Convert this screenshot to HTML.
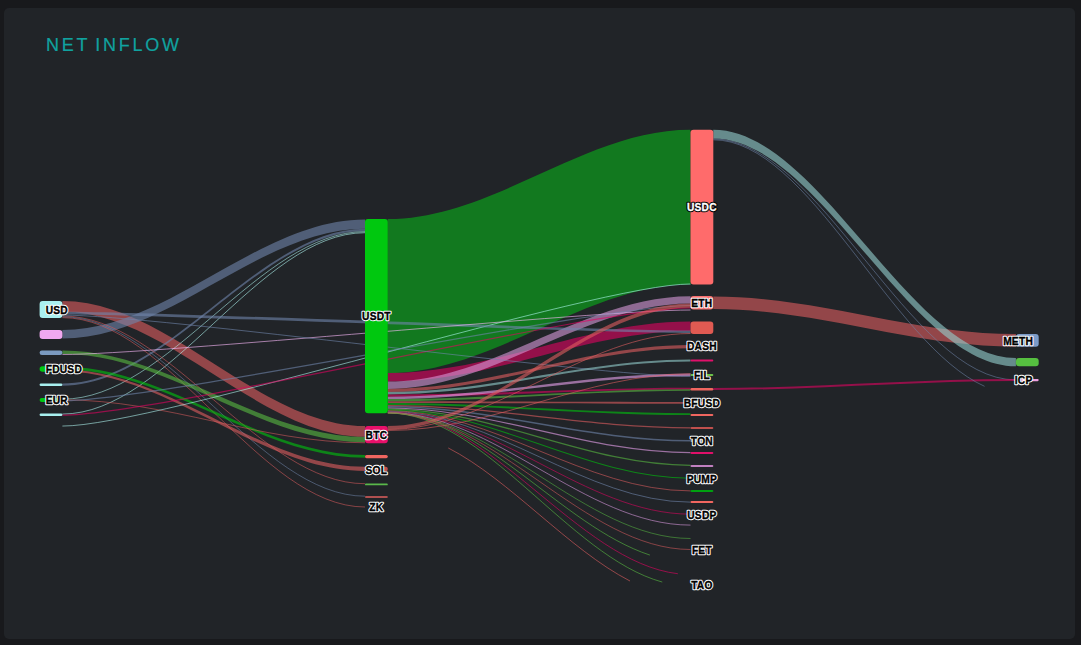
<!DOCTYPE html>
<html><head><meta charset="utf-8"><style>
html,body{margin:0;padding:0;background:#18191c;width:1081px;height:645px;overflow:hidden}
.panel{position:absolute;left:4px;top:8px;width:1071px;height:631px;background:#212428;border-radius:5px}
.title{position:absolute;left:46px;top:35px;font-family:"Liberation Sans",sans-serif;font-size:18px;letter-spacing:2.75px;word-spacing:-2.5px;color:#10a29f;white-space:nowrap;-webkit-text-stroke:0.2px #10a29f}
svg{position:absolute;left:0;top:0}
svg text{font-family:"Liberation Sans",sans-serif;font-weight:bold;font-size:10.2px;letter-spacing:0.25px}
svg text.h{fill:#fff;stroke:#fff;stroke-width:2.4px;stroke-linejoin:round}
svg text.k{fill:#000;stroke:#000;stroke-width:0.35px}
svg text.hi{fill:#000;stroke:#000;stroke-width:2.4px;stroke-linejoin:round}
svg text.ki{fill:#fff;stroke:#fff;stroke-width:0.3px}
</style></head><body>
<div class="panel"></div>
<div class="title">NET INFLOW</div>
<svg width="1081" height="645" viewBox="0 0 1081 645">
<path d="M62.4 301C168.31 301 259.09 426 365 426L365 436.8C259.09 436.8 168.31 311.7 62.4 311.7Z" fill="#df5d5f" fill-opacity="0.6"/>
<path d="M62.4 330C168.31 330 259.09 219.4 365 219.4L365 228.7C259.09 228.7 168.31 338.6 62.4 338.6Z" fill="#6f86ac" fill-opacity="0.6"/>
<path d="M62.4 383.6C168.31 383.6 259.09 228.7 365 228.7L365 231C259.09 231 168.31 385.8 62.4 385.8Z" fill="#6f86ac" fill-opacity="0.6"/>
<path d="M62.4 399.2C168.31 399.2 259.09 231.6 365 231.6" stroke="#b5fffa" stroke-opacity="0.6" stroke-width="0.9" fill="none"/>
<path d="M62.4 414.05C168.31 414.05 259.09 232.7 365 232.7" stroke="#b5fffa" stroke-opacity="0.6" stroke-width="0.95" fill="none"/>
<path d="M62.4 316C168.31 316 259.09 483.7 365 483.7" stroke="#df5d5f" stroke-opacity="0.6" stroke-width="0.9" fill="none"/>
<path d="M62.4 316.8C168.31 316.8 259.09 496.2 365 496.2" stroke="#6f86ac" stroke-opacity="0.6" stroke-width="0.9" fill="none"/>
<path d="M62.4 317.6C168.31 317.6 259.09 507 365 507" stroke="#df5d5f" stroke-opacity="0.6" stroke-width="0.9" fill="none"/>
<path d="M62.4 350.6C168.31 350.6 259.09 437 365 437L365 442.3C259.09 442.3 168.31 354 62.4 354Z" fill="#58ba41" fill-opacity="0.6"/>
<path d="M62.4 366.8C168.31 366.8 259.09 455 365 455L365 457.8C259.09 457.8 168.31 369.5 62.4 369.5Z" fill="#00c40d" fill-opacity="0.6"/>
<path d="M62.4 369.5C168.31 369.5 259.09 466.8 365 466.8L365 471C259.09 471 168.31 371.5 62.4 371.5Z" fill="#df5d5f" fill-opacity="0.6"/>
<path d="M62.4 399.8C168.31 399.8 259.09 442.75 365 442.75" stroke="#df5d5f" stroke-opacity="0.6" stroke-width="0.9" fill="none"/>
<path d="M387.8 219C493.75 219 584.56 129.8 690.5 129.8L690.5 284.5C584.56 284.5 493.75 373.1 387.8 373.1Z" fill="#08b319" fill-opacity="0.6"/>
<path d="M387.8 373.1C493.75 373.1 584.56 321.5 690.5 321.5L690.5 331C584.56 331 493.75 381.6 387.8 381.6Z" fill="#e10361" fill-opacity="0.6"/>
<path d="M387.8 381.6C493.75 381.6 584.56 296.3 690.5 296.3L690.5 303.6C584.56 303.6 493.75 388.9 387.8 388.9Z" fill="#d799d9" fill-opacity="0.6"/>
<path d="M62.4 426.05C156.62 426.05 596.28 284 690.5 284" stroke="#b5fffa" stroke-opacity="0.6" stroke-width="0.95" fill="none"/>
<path d="M62.4 311.7C156.62 311.7 596.28 330.5 690.5 330.5L690.5 333.2C596.28 333.2 156.62 314.4 62.4 314.4Z" fill="#6f86ac" fill-opacity="0.6"/>
<path d="M62.4 354.5C156.62 354.5 596.28 310 690.5 310" stroke="#ffbcff" stroke-opacity="0.6" stroke-width="1" fill="none"/>
<path d="M62.4 400.75C156.62 400.75 596.28 305.5 690.5 305.5" stroke="#6f86ac" stroke-opacity="0.6" stroke-width="1.15" fill="none"/>
<path d="M62.4 415.15C156.62 415.15 596.28 308 690.5 308" stroke="#e10361" stroke-opacity="0.6" stroke-width="1.25" fill="none"/>
<path d="M62.4 315.1C156.62 315.1 596.28 376.5 690.5 376.5" stroke="#6f86ac" stroke-opacity="0.6" stroke-width="1" fill="none"/>
<path d="M387.8 388.9C493.75 388.9 584.56 344.9 690.5 344.9L690.5 348.2C584.56 348.2 493.75 391.9 387.8 391.9Z" fill="#df5d5f" fill-opacity="0.6"/>
<path d="M387.8 391.9C493.75 391.9 584.56 359.4 690.5 359.4L690.5 361.6C584.56 361.6 493.75 394.4 387.8 394.4Z" fill="#94d1cf" fill-opacity="0.6"/>
<path d="M387.8 394.4C493.75 394.4 584.56 387.7 690.5 387.7L690.5 389.5C584.56 389.5 493.75 396.7 387.8 396.7Z" fill="#e10361" fill-opacity="0.6"/>
<path d="M387.8 396.7C493.75 396.7 584.56 373.5 690.5 373.5L690.5 376C584.56 376 493.75 399.1 387.8 399.1Z" fill="#eba3f0" fill-opacity="0.6"/>
<path d="M387.8 399.1C493.75 399.1 584.56 389.2 690.5 389.2L690.5 390.8C584.56 390.8 493.75 401.3 387.8 401.3Z" fill="#58ba41" fill-opacity="0.6"/>
<path d="M387.8 401.3C493.75 401.3 584.56 402 690.5 402L690.5 403.8C584.56 403.8 493.75 403 387.8 403Z" fill="#df5d5f" fill-opacity="0.6"/>
<path d="M387.8 403C493.75 403 584.56 413.2 690.5 413.2L690.5 415C584.56 415 493.75 405 387.8 405Z" fill="#00c40d" fill-opacity="0.6"/>
<path d="M387.8 405.5C493.75 405.5 584.56 427.75 690.5 427.75" stroke="#df5d5f" stroke-opacity="0.6" stroke-width="1.25" fill="none"/>
<path d="M387.8 406.75C493.75 406.75 584.56 440.75 690.5 440.75" stroke="#6f86ac" stroke-opacity="0.6" stroke-width="1.5" fill="none"/>
<path d="M387.8 408C493.75 408 584.56 452.65 690.5 452.65" stroke="#eba3f0" stroke-opacity="0.6" stroke-width="1.15" fill="none"/>
<path d="M387.8 409C493.75 409 584.56 465.25 690.5 465.25" stroke="#58ba41" stroke-opacity="0.6" stroke-width="1.25" fill="none"/>
<path d="M387.8 409.9C493.75 409.9 584.56 478.15 690.5 478.15" stroke="#00c40d" stroke-opacity="0.6" stroke-width="1.05" fill="none"/>
<path d="M387.8 410.65C493.75 410.65 584.56 490.9 690.5 490.9" stroke="#df5d5f" stroke-opacity="0.6" stroke-width="0.95" fill="none"/>
<path d="M387.8 411.35C493.75 411.35 584.56 502.15 690.5 502.15" stroke="#6f86ac" stroke-opacity="0.6" stroke-width="1" fill="none"/>
<path d="M387.8 412C493.75 412 584.56 514.15 690.5 514.15" stroke="#e10361" stroke-opacity="0.6" stroke-width="0.95" fill="none"/>
<path d="M387.8 412.6C493.75 412.6 584.56 525.1 690.5 525.1" stroke="#eba3f0" stroke-opacity="0.6" stroke-width="0.9" fill="none"/>
<path d="M387.8 412.85C493.75 412.85 584.56 538.5 690.5 538.5" stroke="#58ba41" stroke-opacity="0.6" stroke-width="0.9" fill="none"/>
<path d="M387.8 412.95C493.75 412.95 584.56 549.5 690.5 549.5" stroke="#df5d5f" stroke-opacity="0.6" stroke-width="0.9" fill="none"/>
<path d="M387.8 426C493.75 426 584.56 303.6 690.5 303.6L690.5 307.4C584.56 307.4 493.75 429.6 387.8 429.6Z" fill="#df5d5f" fill-opacity="0.6"/>
<path d="M387.8 429.5C493.75 429.5 584.56 333.5 690.5 333.5" stroke="#df5d5f" stroke-opacity="0.6" stroke-width="1" fill="none"/>
<path d="M387.8 430.5C493.75 430.5 584.56 373.8 690.5 373.8" stroke="#df5d5f" stroke-opacity="0.6" stroke-width="1" fill="none"/>
<path d="M713.3 296.5C819.21 296.5 909.99 334.1 1015.9 334.1L1015.9 346.7C909.99 346.7 819.21 309.1 713.3 309.1Z" fill="#df5d5f" fill-opacity="0.6"/>
<path d="M713.3 129.8C819.21 129.8 909.99 358 1015.9 358L1015.9 366.3C909.99 366.3 819.21 138.4 713.3 138.4Z" fill="#94d1cf" fill-opacity="0.6"/>
<path d="M713.3 138.9C819.21 138.9 909.99 379.9 1015.9 379.9" stroke="#6f86ac" stroke-opacity="0.6" stroke-width="0.9" fill="none"/>
<path d="M713.3 388C819.21 388 909.99 379 1015.9 379L1015.9 381C909.99 381 819.21 390 713.3 390Z" fill="#e10361" fill-opacity="0.6"/>
<path d="M387.8 412.8C479.97 412.8 560.69 525.73 649.88 555.09" stroke="#58ba41" stroke-opacity="0.6" stroke-width="1" fill="none"/>
<path d="M387.8 412.8C489.51 412.8 577.27 561.82 677.86 573.74" stroke="#e10361" stroke-opacity="0.6" stroke-width="1" fill="none"/>
<path d="M387.8 413C484.21 413 568.09 556.26 662.24 582.05" stroke="#58ba41" stroke-opacity="0.6" stroke-width="1" fill="none"/>
<path d="M448.28 447.97C510 479.77 568.3 549.23 630.02 581.03" stroke="#df5d5f" stroke-opacity="0.6" stroke-width="1" fill="none"/>
<path d="M713.3 139.8C808.62 139.8 891.68 345.22 984.55 386.3" stroke="#6f86ac" stroke-opacity="0.6" stroke-width="0.9" fill="none"/>
<rect x="39.6" y="301" width="22.8" height="17" rx="3" fill="#aaf0f0"/>
<rect x="39.6" y="330" width="22.8" height="9" rx="3" fill="#f0a8f0"/>
<rect x="39.6" y="350.5" width="22.8" height="4.5" rx="2.25" fill="#7b9ac0"/>
<rect x="39.6" y="366.3" width="22.8" height="5.5" rx="2.75" fill="#00c80f"/>
<rect x="39.6" y="383.5" width="22.8" height="2.5" rx="1.25" fill="#a8f0f0"/>
<rect x="39.6" y="398" width="22.8" height="4" rx="2" fill="#00c80f"/>
<rect x="39.6" y="413.5" width="22.8" height="2.5" rx="1.25" fill="#a8f0f0"/>
<rect x="365" y="219" width="22.8" height="194.3" rx="3" fill="#00c80f"/>
<rect x="365" y="426" width="22.8" height="17.2" rx="3" fill="#e8106a"/>
<rect x="365" y="455" width="22.8" height="3.2" rx="1.6" fill="#f06660"/>
<rect x="365" y="466.8" width="22.8" height="4.4" rx="2.2" fill="#c0504d"/>
<rect x="365" y="483.5" width="22.8" height="1.8" rx="0.9" fill="#5ab84a"/>
<rect x="365" y="496" width="22.8" height="2" rx="1" fill="#b05050"/>
<rect x="690.5" y="129.8" width="22.8" height="154.7" rx="3" fill="#ff6b6b"/>
<rect x="690.5" y="296" width="22.8" height="13.5" rx="3" fill="#f87070"/>
<rect x="690.5" y="321.5" width="22.8" height="12.5" rx="3" fill="#e05a52"/>
<rect x="690.5" y="345" width="22.8" height="3" rx="1.5" fill="#c0504d"/>
<rect x="690.5" y="359.4" width="22.8" height="2" rx="1" fill="#e0106a"/>
<rect x="690.5" y="374" width="22.8" height="2" rx="1" fill="#6abf4b"/>
<rect x="690.5" y="388" width="22.8" height="2.4" rx="1.2" fill="#f06660"/>
<rect x="690.5" y="402" width="22.8" height="2" rx="1" fill="#c0504d"/>
<rect x="690.5" y="414" width="22.8" height="2" rx="1" fill="#f06660"/>
<rect x="690.5" y="427" width="22.8" height="2" rx="1" fill="#c0504d"/>
<rect x="690.5" y="440" width="22.8" height="2" rx="1" fill="#7b9ac0"/>
<rect x="690.5" y="452" width="22.8" height="2" rx="1" fill="#e0106a"/>
<rect x="690.5" y="465" width="22.8" height="2" rx="1" fill="#c080c0"/>
<rect x="690.5" y="478" width="22.8" height="2" rx="1" fill="#00a010"/>
<rect x="690.5" y="490" width="22.8" height="2" rx="1" fill="#00a010"/>
<rect x="690.5" y="501" width="22.8" height="2" rx="1" fill="#f06660"/>
<rect x="1015.9" y="334.1" width="22.8" height="12.6" rx="3" fill="#7b9bc8"/>
<rect x="1015.9" y="358" width="22.8" height="8.3" rx="3" fill="#56c040"/>
<rect x="1015.9" y="379" width="22.8" height="2.2" rx="1.1" fill="#f0a0e0"/>
<text class="h" x="45.7" y="310.2" text-anchor="start" dominant-baseline="central">USD</text>
<text class="k" x="45.7" y="310.2" text-anchor="start" dominant-baseline="central">USD</text>
<text class="h" x="45.7" y="369.5" text-anchor="start" dominant-baseline="central">FDUSD</text>
<text class="k" x="45.7" y="369.5" text-anchor="start" dominant-baseline="central">FDUSD</text>
<text class="h" x="45.7" y="400.5" text-anchor="start" dominant-baseline="central">EUR</text>
<text class="k" x="45.7" y="400.5" text-anchor="start" dominant-baseline="central">EUR</text>
<text class="h" x="376.4" y="316" text-anchor="middle" dominant-baseline="central">USDT</text>
<text class="k" x="376.4" y="316" text-anchor="middle" dominant-baseline="central">USDT</text>
<text class="h" x="376.4" y="435" text-anchor="middle" dominant-baseline="central">BTC</text>
<text class="k" x="376.4" y="435" text-anchor="middle" dominant-baseline="central">BTC</text>
<text class="h" x="376.4" y="470" text-anchor="middle" dominant-baseline="central">SOL</text>
<text class="k" x="376.4" y="470" text-anchor="middle" dominant-baseline="central">SOL</text>
<text class="h" x="376.4" y="507" text-anchor="middle" dominant-baseline="central">ZK</text>
<text class="k" x="376.4" y="507" text-anchor="middle" dominant-baseline="central">ZK</text>
<text class="hi" x="701.9" y="207" text-anchor="middle" dominant-baseline="central">USDC</text>
<text class="ki" x="701.9" y="207" text-anchor="middle" dominant-baseline="central">USDC</text>
<text class="h" x="701.9" y="303" text-anchor="middle" dominant-baseline="central">ETH</text>
<text class="k" x="701.9" y="303" text-anchor="middle" dominant-baseline="central">ETH</text>
<text class="h" x="701.9" y="346" text-anchor="middle" dominant-baseline="central">DASH</text>
<text class="k" x="701.9" y="346" text-anchor="middle" dominant-baseline="central">DASH</text>
<text class="h" x="701.9" y="375" text-anchor="middle" dominant-baseline="central">FIL</text>
<text class="k" x="701.9" y="375" text-anchor="middle" dominant-baseline="central">FIL</text>
<text class="h" x="701.9" y="403" text-anchor="middle" dominant-baseline="central">BFUSD</text>
<text class="k" x="701.9" y="403" text-anchor="middle" dominant-baseline="central">BFUSD</text>
<text class="h" x="701.9" y="441" text-anchor="middle" dominant-baseline="central">TON</text>
<text class="k" x="701.9" y="441" text-anchor="middle" dominant-baseline="central">TON</text>
<text class="h" x="701.9" y="479" text-anchor="middle" dominant-baseline="central">PUMP</text>
<text class="k" x="701.9" y="479" text-anchor="middle" dominant-baseline="central">PUMP</text>
<text class="h" x="701.9" y="515" text-anchor="middle" dominant-baseline="central">USDP</text>
<text class="k" x="701.9" y="515" text-anchor="middle" dominant-baseline="central">USDP</text>
<text class="h" x="701.9" y="550" text-anchor="middle" dominant-baseline="central">FET</text>
<text class="k" x="701.9" y="550" text-anchor="middle" dominant-baseline="central">FET</text>
<text class="h" x="701.9" y="585" text-anchor="middle" dominant-baseline="central">TAO</text>
<text class="k" x="701.9" y="585" text-anchor="middle" dominant-baseline="central">TAO</text>
<text class="h" x="1033" y="341" text-anchor="end" dominant-baseline="central">METH</text>
<text class="k" x="1033" y="341" text-anchor="end" dominant-baseline="central">METH</text>
<text class="h" x="1032.5" y="380.5" text-anchor="end" dominant-baseline="central">ICP</text>
<text class="k" x="1032.5" y="380.5" text-anchor="end" dominant-baseline="central">ICP</text>
</svg>
</body></html>
